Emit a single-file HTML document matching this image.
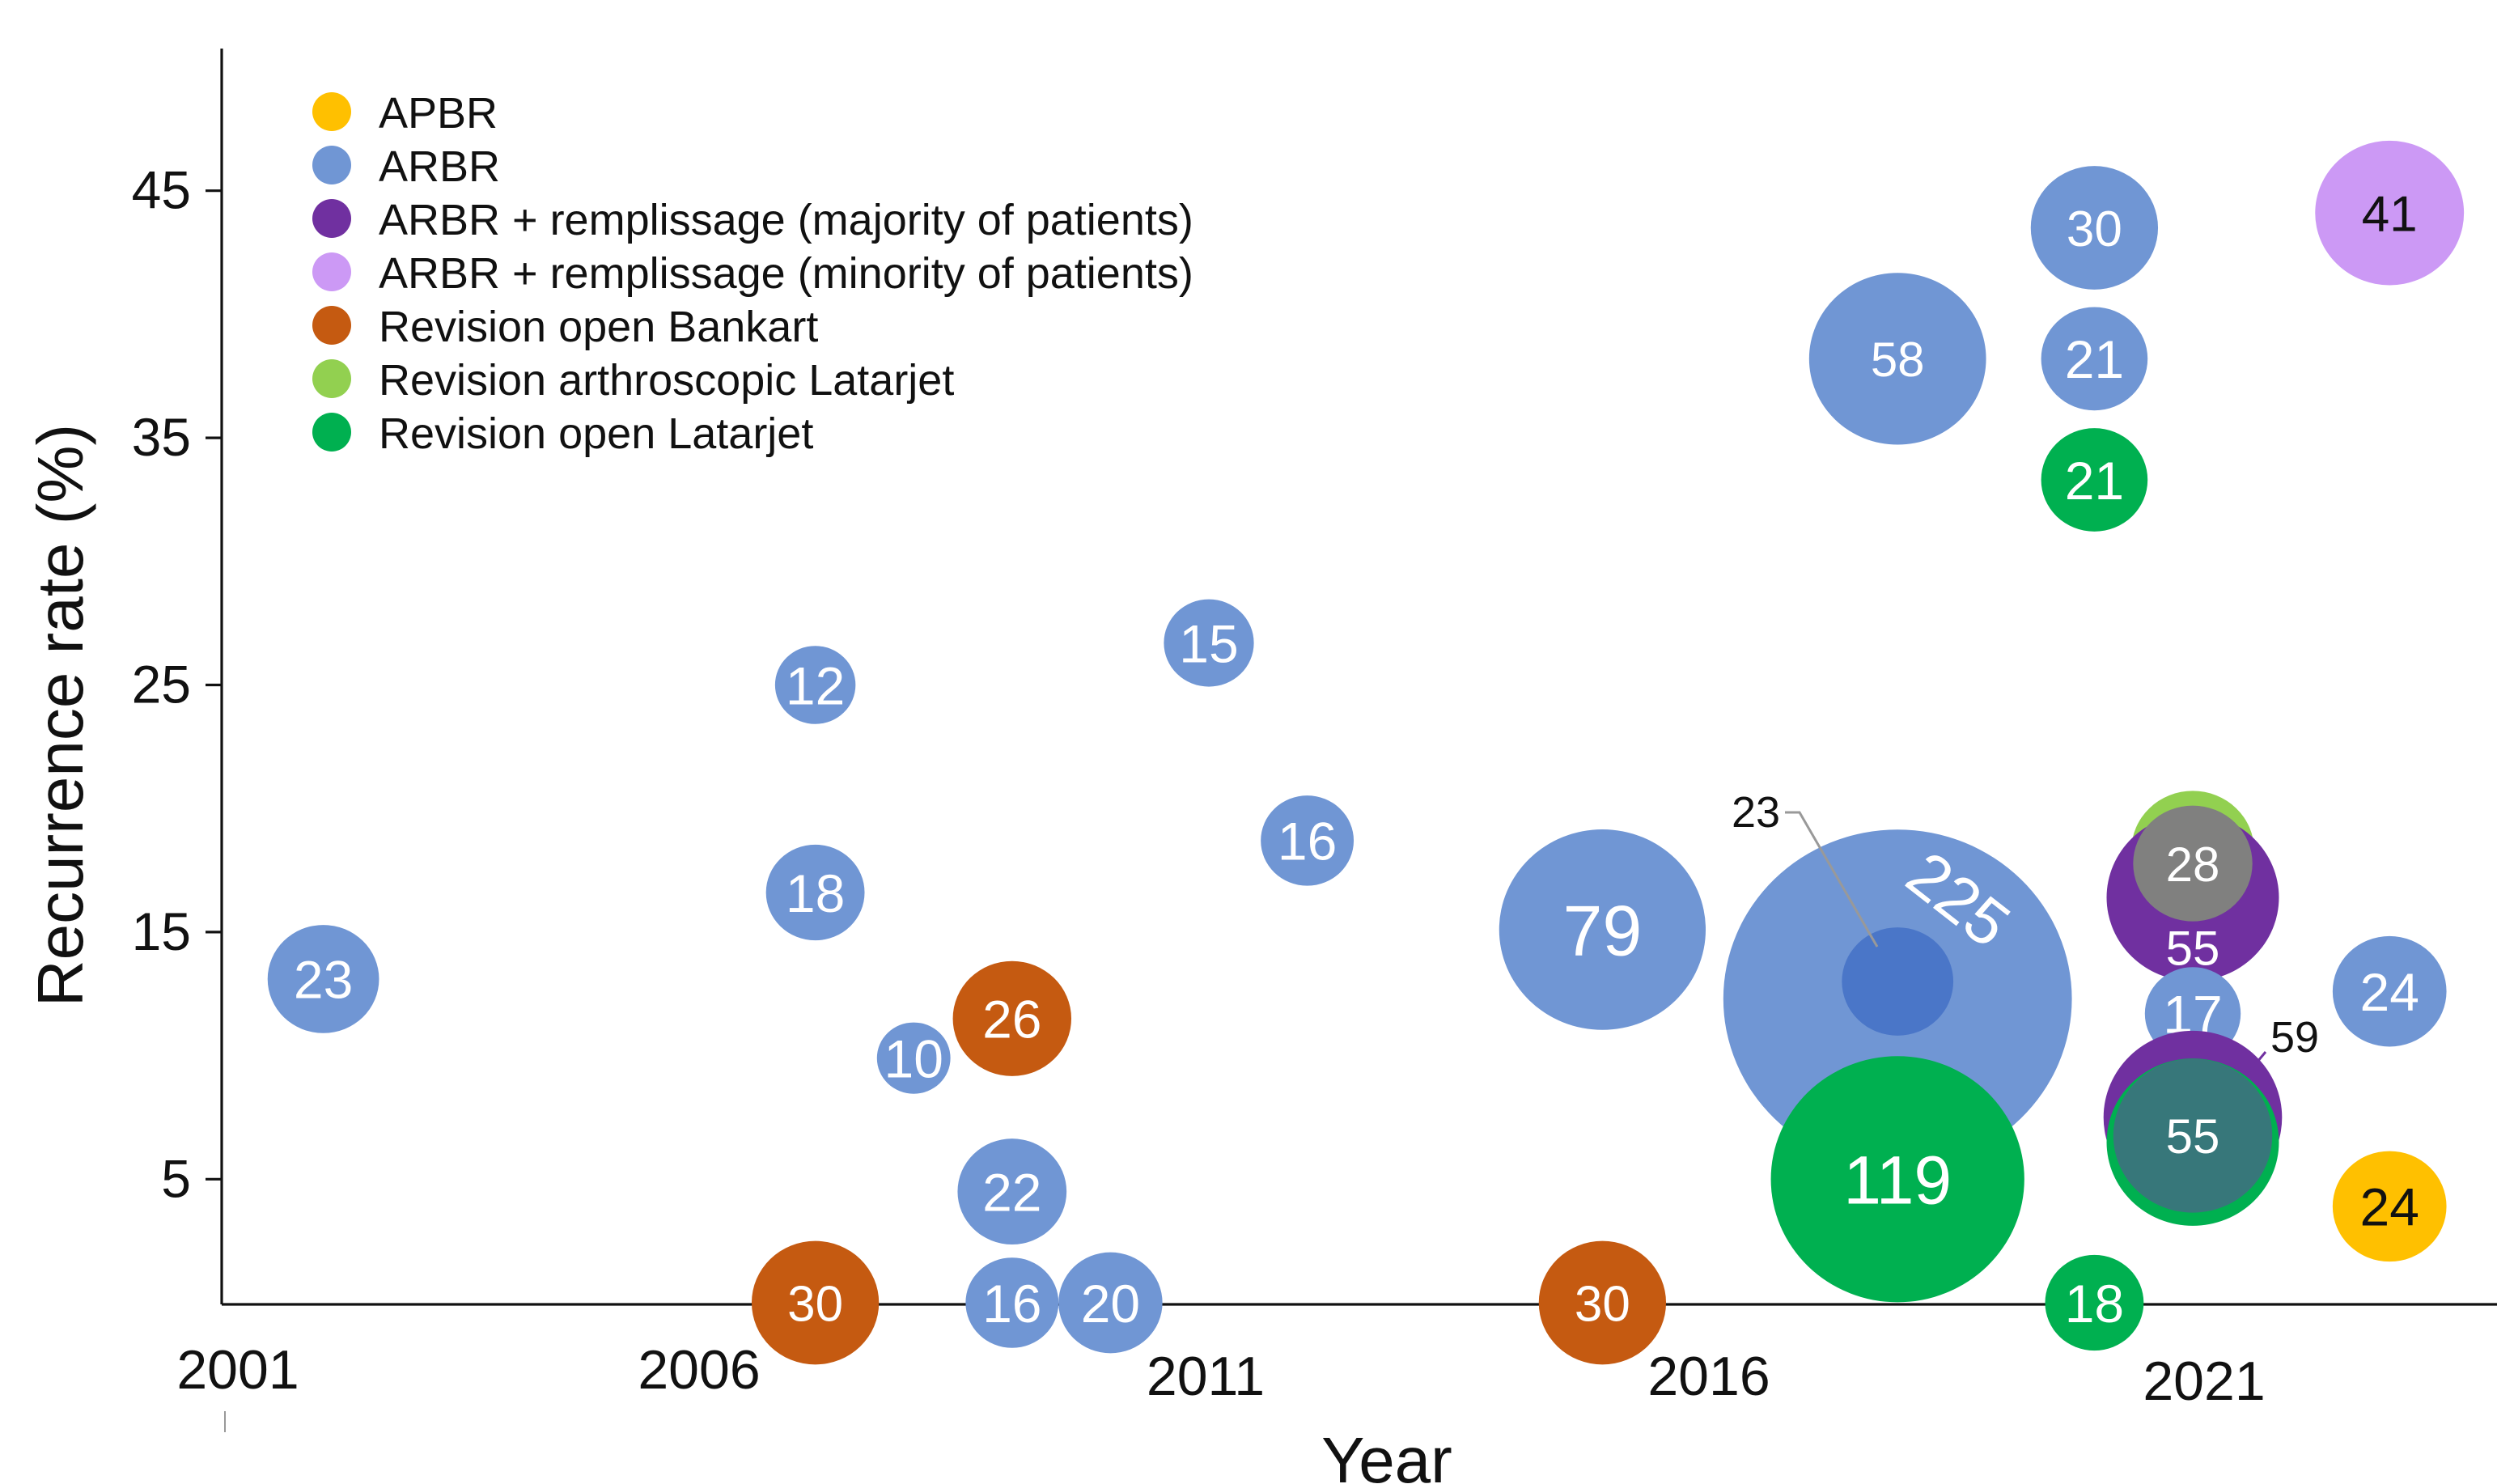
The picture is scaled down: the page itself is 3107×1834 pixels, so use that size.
<!DOCTYPE html>
<html><head><meta charset="utf-8"><style>
html,body{margin:0;padding:0;background:#fff}
svg{display:block}
text{font-family:"Liberation Sans",Arial,sans-serif}
</style></head><body>
<svg id="chart" width="3107" height="1834" viewBox="0 0 1553.5 917" xmlns="http://www.w3.org/2000/svg">
<g id="axes"></g>
<g id="marks"></g>
<g id="legend"></g>
</svg>
<script>
const groups = ["APBR","ARBR","ARBR + remplissage (majority of patients)","ARBR + remplissage (minority of patients)","Revision open Bankart","Revision arthroscopic Latarjet","Revision open Latarjet"];
const groupColors = ["#ffc000","#7096d4","#7030a0","#cc99f5","#c55a11","#92d050","#00b050"];
const years = [2018,2002,2007,2007,2007,2008,2009,2009,2009,2010,2011,2012,2015,2015,2018,2018,2018,2020,2020,2020,2020,2021,2021,2021,2021,2021,2023,2023,2023];
const rates = [12.3,13.1,25.0,16.6,0,9.9,11.5,4.5,0,0,26.7,18.7,15.1,0,13.0,38.2,5.0,43.5,38.2,33.3,0,18.3,16.4,11.7,7.5,6.5,44.1,12.6,3.9];
const sizes = [225,23,12,18,30,10,26,22,16,20,15,16,79,30,23,58,119,30,21,21,18,28,55,17,59,55,41,24,24];
const groupIdx = [1,1,1,1,4,1,4,1,1,1,1,1,1,4,1,1,6,1,1,6,6,5,2,1,2,6,3,1,0];
const yTicks = [5,15,25,35,45];
const xTickLabels = ["2001","2006","2011","2016","2021"];

const NS="http://www.w3.org/2000/svg";
function mk(tag, attrs, parent){const e=document.createElementNS(NS,tag);for(const k in attrs)e.setAttribute(k,attrs[k]);parent.appendChild(e);return e;}
const X = y => 139 + (y-2001)*60.8;
const Y = v => 805 - v*15.27;
const R = n => 6.97*Math.sqrt(n);

const axes=document.getElementById('axes');
let l=mk('line',{x1:137,y1:30,x2:137,y2:806,stroke:'#111','stroke-width':1.6},axes);


l=mk('line',{x1:137,y1:806,x2:1543,y2:806,stroke:'#111','stroke-width':1.6},axes);


yTicks.forEach(v=>{
  const t=mk('line',{x1:127,y1:Y(v),x2:137,y2:Y(v),stroke:'#111','stroke-width':1.6},axes);
  
  
  const tx=mk('text',{x:118,y:Y(v)+11,'text-anchor':'end','font-size':33,fill:'#111'},axes);
  tx.textContent=v;
  
  
});
const xLabPos=[[147,858],[432,858],[745,862],[1056,862],[1362,865]];
xTickLabels.forEach((s,i)=>{
  const tx=mk('text',{x:xLabPos[i][0],y:xLabPos[i][1],'text-anchor':'middle','font-size':34,fill:'#111'},axes);
  tx.textContent=s;
  
  
});
mk('line',{x1:139,y1:872,x2:139,y2:885,stroke:'#999','stroke-width':1},axes);
let tt=mk('text',{x:857,y:916,'text-anchor':'middle','font-size':40,fill:'#111'},axes);
tt.textContent='Year';


tt=mk('text',{x:0,y:0,'text-anchor':'middle','font-size':40,fill:'#111',transform:'translate(51,442) rotate(-90)'},axes);
tt.textContent='Recurrence rate (%)';



function labelSize(n){
  if(n>=100) return 42;
  if(n===79) return 44;
  if(n>=55) return 30;
  if(n>=28) return 31;
  return 33;
}

const marks=document.getElementById('marks');
years.forEach((yr,i)=>{
  const cx=X(yr), cy=Y(rates[i]), r=R(sizes[i]), n=sizes[i];
  const g=groupIdx[i];
  let fill=groupColors[g];
  if(yr===2018 && n===23) fill='#4a76c8';
  const c=mk('ellipse',{cx:cx,cy:cy,rx:r*1.03,ry:r,fill:fill},marks);
  
  
  let lx=cx, ly=cy, fs=labelSize(n), col='#fff', rot=null, txt=String(n);
  if(g===0||g===3) col='#111';
  if(yr===2018 && n===225){ lx=cx+38; ly=cy-62; rot=38; fs=40; }
  if(yr===2018 && n===23){
    const a=mk('text',{x:1085,y:511,'text-anchor':'middle','font-size':27,fill:'#111'},marks); a.textContent='23';
    
    
    mk('polyline',{points:'1103,502 1112,502 1160,585',fill:'none',stroke:'#999','stroke-width':1.5},marks);
    return;
  }
  if(yr===2021 && n===55 && g===2){ ly=cy+31; fs=30; }
  if(yr===2021 && n===59){
    const a=mk('text',{x:1418,y:650,'text-anchor':'middle','font-size':27,fill:'#111'},marks); a.textContent='59';
    
    
    mk('line',{x1:1400,y1:650,x2:1390,y2:662,stroke:'#7030a0','stroke-width':1.5},marks);
    return;
  }
  if(yr===2021 && n===28) return;
  if(yr===2021 && n===55 && g===6){
    const o=mk('ellipse',{cx:cx,cy:cy-4,rx:r*0.95,ry:r*0.92,fill:'#37777a'},marks);
    
    
    ly=cy-4; fs=30;
  }
  const t=mk('text',{x:lx,y:ly+fs*0.36,'text-anchor':'middle','font-size':fs,fill:col},marks);
  if(rot!==null) t.setAttribute('transform','rotate('+rot+' '+lx+' '+ly+')');
  t.textContent=txt;
  
  
});
// grey overlap of light-green 28 with purple 55, drawn on top
(function(){
  const i=years.findIndex((y,k)=>y===2021&&sizes[k]===28);
  const cx=X(years[i]), cy=Y(rates[i])+8, r=R(sizes[i])*0.97;
  const o=mk('ellipse',{cx:cx,cy:cy,rx:r*1.03,ry:r,fill:'#80807f'},marks);
  
  
  const t=mk('text',{x:cx,y:cy+11,'text-anchor':'middle','font-size':30,fill:'#fff'},marks);
  t.textContent=String(sizes[i]);
  
  
})();

const legend=document.getElementById('legend');
groups.forEach((gname,i)=>{
  const y=69+i*33;
  const c=mk('circle',{cx:205,cy:y,r:12,fill:groupColors[i]},legend);
  
  
  const t=mk('text',{x:234,y:y+10,'font-size':27,fill:'#111'},legend);
  t.textContent=gname;
  
  
});
</script>
</body></html>
